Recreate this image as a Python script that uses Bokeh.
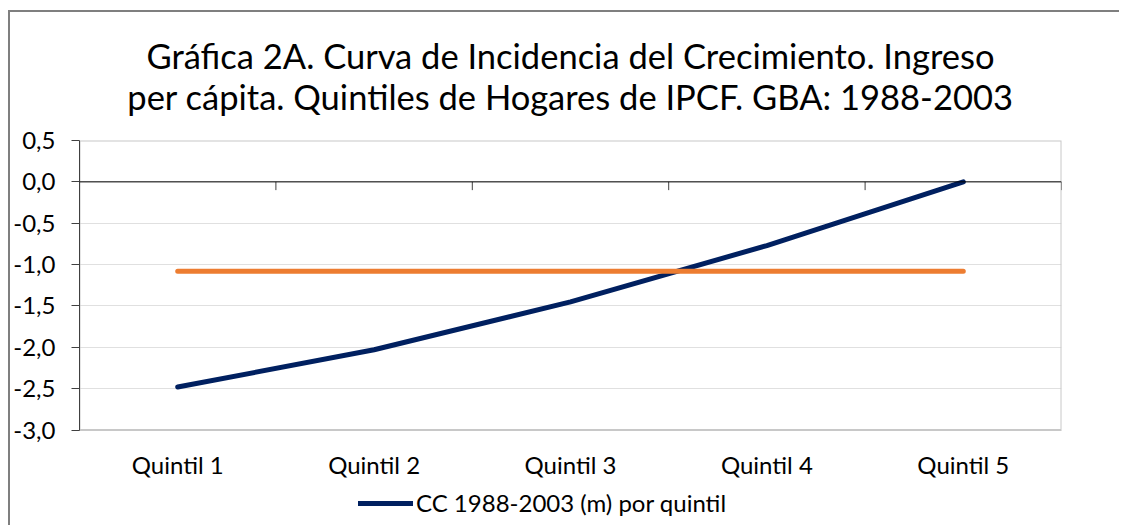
from bokeh.plotting import figure
from bokeh.models import (FixedTicker, Span, Legend, LegendItem, Range1d, FactorRange, Title, Column)
from bokeh.embed import file_html
from bokeh.resources import INLINE

categories = ["Quintil 1", "Quintil 2", "Quintil 3", "Quintil 4", "Quintil 5"]
cc_values = [-2.48, -2.03, -1.45, -0.77, 0.0]
mean_values = [-1.08, -1.08, -1.08, -1.08, -1.08]
y_ticks = [-3.0, -2.5, -2.0, -1.5, -1.0, -0.5, 0.0, 0.5]
series_label = "CC 1988-2003 (m) por quintil"
title_lines = ["Gráfica 2A. Curva de Incidencia del Crecimiento. Ingreso",
               "per cápita. Quintiles de Hogares de IPCF. GBA: 1988-2003"]

FONT = "Lato"

PLOT_H = 288          # height of the drawn plot area in px
EXTRA_H = 87          # room below the plot area for category labels and legend
y_lo, y_hi = y_ticks[0], y_ticks[-1]
px_per_unit = PLOT_H / (y_hi - y_lo)
y_start = y_lo - EXTRA_H / px_per_unit

p = figure(frame_width=980, frame_height=PLOT_H + EXTRA_H, x_range=FactorRange(*categories),
           y_range=Range1d(y_start, y_hi), output_backend="svg", toolbar_location=None,
           title=None,
           min_border_left=62, min_border_right=60, min_border_top=128,
           min_border_bottom=10)

p.styles = {"border-left": "2px solid #7f7f7f", "border-top": "2px solid #7f7f7f"}

# spacer between frame and title block
p.add_layout(Title(text=" ", text_font_size="1px", standoff=22, padding=0), "above")
# title, one centred line per Title (closest to the frame first)
for line in reversed(title_lines):
    p.add_layout(Title(text=line, align="center", text_font=FONT, text_font_size="34.5px",
                       text_font_style="normal", text_color="#000000",
                       standoff=-2, padding=0), "above")

p.outline_line_color = None
# plot-area box
p.quad(left=[0], right=[len(categories)], bottom=[y_lo], top=[y_hi],
       fill_color=None, line_color="#c8c8c8", line_width=2)

# y axis
p.yaxis.ticker = FixedTicker(ticks=y_ticks)
p.yaxis.bounds = (y_lo, y_hi)
p.yaxis.major_label_overrides = {v: (f"{v:.1f}".replace(".", ",") if v != 0 else "0,0") for v in y_ticks}
p.yaxis.major_label_text_font = FONT
p.yaxis.major_label_text_font_size = "24px"
p.yaxis.major_label_text_color = "#000000"
p.yaxis.axis_line_color = "#404040"
p.yaxis.major_tick_line_color = "#404040"
p.yaxis.major_tick_out = 8
p.yaxis.major_tick_in = 0
p.yaxis.minor_tick_line_color = None
p.yaxis.major_label_standoff = 16

p.ygrid.grid_line_color = "#e0e0e0"
p.ygrid.grid_line_width = 1
p.xgrid.grid_line_color = None

# x axis (labels only), drawn at the bottom of the plot area
p.xaxis.fixed_location = y_lo
p.xaxis.axis_line_color = None
p.xaxis.major_tick_line_color = None
p.xaxis.minor_tick_line_color = None
p.xaxis.major_label_orientation = "horizontal"
p.xaxis.major_label_text_font = FONT
p.xaxis.major_label_text_font_size = "24px"
p.xaxis.major_label_text_color = "#000000"
p.xaxis.major_label_standoff = 14

# zero axis line with category boundary ticks
p.add_layout(Span(location=0, dimension="width", line_color="#000000", line_width=1))
bounds = list(range(1, len(categories) + 1))
p.segment(x0=bounds, y0=[0] * len(bounds), x1=bounds, y1=[-0.1] * len(bounds),
          line_color="#404040", line_width=1)

blue = p.line(categories, cc_values, line_color="#002060", line_width=5, line_cap="round",
              line_join="round")
p.line(categories, mean_values, line_color="#ED7D31", line_width=5, line_cap="round")

legend = Legend(items=[LegendItem(label=series_label, renderers=[blue])],
                orientation="horizontal", location=(279, 0))
legend.label_text_font = FONT
legend.label_text_font_size = "24px"
legend.label_text_color = "#000000"
legend.glyph_width = 55
legend.label_standoff = 3
legend.border_line_color = None
legend.background_fill_alpha = 0
legend.padding = 0
legend.margin = 0
p.add_layout(legend, "center")

layout = Column(p, styles={"padding-left": "8px", "padding-top": "10px"})

open("out.html", "w").write(file_html(layout, INLINE))
